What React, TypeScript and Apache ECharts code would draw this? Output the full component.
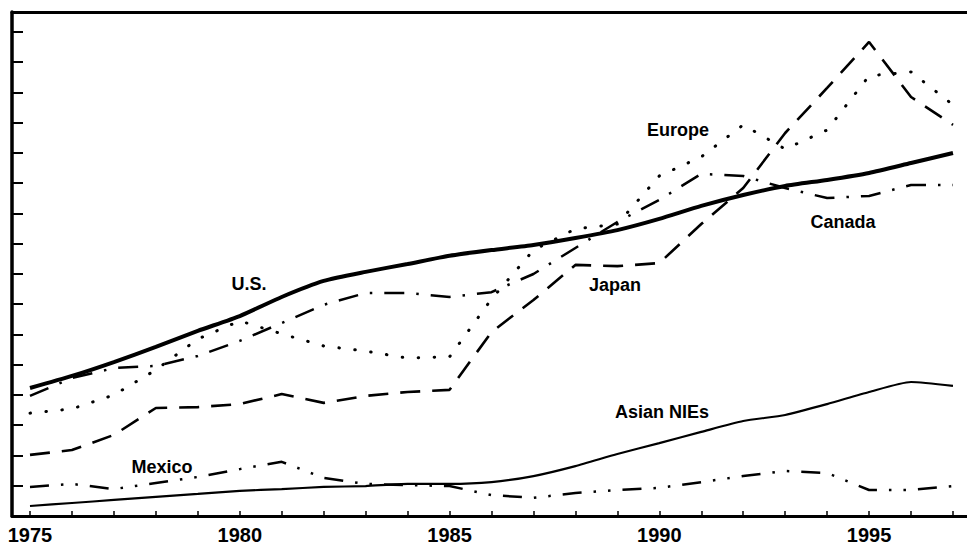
import React, { useEffect, useRef } from "react";
import * as echarts from "echarts";

const years = [1975, 1976, 1977, 1978, 1979, 1980, 1981, 1982, 1983, 1984, 1985, 1986, 1987, 1988, 1989, 1990, 1991, 1992, 1993, 1994, 1995, 1996, 1997];
const tickLabels = [1975, 1980, 1985, 1990, 1995];

const us = [4.23, 4.63, 5.09, 5.59, 6.12, 6.61, 7.24, 7.77, 8.07, 8.33, 8.6, 8.79, 8.96, 9.19, 9.45, 9.82, 10.25, 10.61, 10.91, 11.11, 11.34, 11.67, 12.0];
const canada = [3.97, 4.56, 4.89, 4.96, 5.29, 5.79, 6.38, 6.98, 7.37, 7.37, 7.24, 7.4, 8.0, 8.86, 9.72, 10.45, 11.31, 11.24, 10.84, 10.51, 10.58, 10.94, 10.94];
const europe = [3.4, 3.54, 4.0, 4.83, 5.85, 6.45, 6.02, 5.62, 5.45, 5.22, 5.26, 7.17, 8.79, 9.49, 9.65, 11.24, 11.87, 12.93, 12.13, 12.76, 14.55, 14.68, 13.59];
const japan = [2.02, 2.18, 2.68, 3.57, 3.6, 3.7, 4.03, 3.74, 3.97, 4.1, 4.17, 6.08, 7.14, 8.3, 8.26, 8.36, 9.65, 10.84, 12.66, 14.15, 15.67, 13.85, 12.93];
const mexico = [0.96, 1.06, 0.89, 1.09, 1.29, 1.55, 1.79, 1.26, 1.06, 1.02, 0.99, 0.69, 0.6, 0.76, 0.86, 0.93, 1.12, 1.32, 1.49, 1.42, 0.86, 0.86, 0.99];
const asianNIEs = [0.33, 0.43, 0.53, 0.63, 0.73, 0.83, 0.89, 0.96, 0.99, 1.06, 1.06, 1.12, 1.32, 1.65, 2.05, 2.41, 2.78, 3.14, 3.34, 3.7, 4.1, 4.43, 4.3];

const seriesNames = ["U.S.", "Canada", "Europe", "Japan", "Mexico", "Asian NIEs"];

const FONT = "'Liberation Sans', Arial, Helvetica, sans-serif";

function pairs(vals: number[]) {
  return years.map((y, i) => [y, vals[i]]);
}

export default function App() {
  const ref = useRef<HTMLDivElement>(null);
  useEffect(() => {
    if (!ref.current) return;
    const chart = echarts.init(ref.current, null, { renderer: "svg" });
    const base = { type: "line", symbol: "none", silent: true };
    const labelText = (text: string, x: number, y: number) => ({
      type: "text",
      x,
      y,
      style: {
        text,
        fill: "#000",
        font: `bold 18px ${FONT}`,
        textAlign: "center",
        textVerticalAlign: "middle",
      },
    });
    chart.setOption({
      animation: false,
      backgroundColor: "#fff",
      grid: { left: 12, right: 0, top: 12, bottom: 33 },
      xAxis: [
        {
          type: "value",
          min: 1974.571,
          max: 1997.334,
          axisLine: { show: true, lineStyle: { color: "#000", width: 3 } },
          axisTick: {
            show: true,
            inside: true,
            length: 5,
            customValues: years,
            lineStyle: { color: "#000", width: 1.5 },
          },
          axisLabel: {
            show: true,
            customValues: tickLabels,
            formatter: (v: number) => String(Math.round(v)),
            color: "#000",
            fontSize: 20,
            fontWeight: "bold",
            fontFamily: FONT,
            margin: 9,
          },
          splitLine: { show: false },
        },
        {
          type: "value",
          position: "top",
          min: 1974.571,
          max: 1997.334,
          axisLine: { show: true, lineStyle: { color: "#000", width: 3 } },
          axisTick: { show: false },
          axisLabel: { show: false },
          splitLine: { show: false },
        },
      ],
      yAxis: {
        type: "value",
        min: 0,
        max: 16.66,
        interval: 1,
        axisLine: { show: true, lineStyle: { color: "#000", width: 3.5 } },
        axisTick: { show: true, inside: true, length: 11, lineStyle: { color: "#000", width: 2 } },
        axisLabel: { show: false },
        splitLine: { show: false },
      },
      series: [
        { ...base, name: seriesNames[0], data: pairs(us), smooth: 0.2, lineStyle: { color: "#000", width: 4 } },
        { ...base, name: seriesNames[1], data: pairs(canada), lineStyle: { color: "#000", width: 2.5, type: [20, 12, 2.5, 12] } },
        { ...base, name: seriesNames[2], data: pairs(europe), lineStyle: { color: "#000", width: 3, type: [0.5, 15.5], cap: "round" } },
        { ...base, name: seriesNames[3], data: pairs(japan), lineStyle: { color: "#000", width: 2.6, type: [20, 12] } },
        { ...base, name: seriesNames[4], data: pairs(mexico), lineStyle: { color: "#000", width: 2.5, type: [19, 12, 2.5, 12, 2.5, 12] } },
        { ...base, name: seriesNames[5], data: pairs(asianNIEs), smooth: 0.2, lineStyle: { color: "#000", width: 2.2 } },
      ],
      graphic: [
        labelText("U.S.", 249, 284),
        labelText("Europe", 678, 130),
        labelText("Canada", 843, 222),
        labelText("Japan", 615, 285),
        labelText("Asian NIEs", 662, 412),
        labelText("Mexico", 162, 467),
      ],
    });
    return () => chart.dispose();
  }, []);
  return (
    <div
      ref={ref}
      style={{ position: "absolute", left: 0, top: 0, width: 967, height: 549, background: "#fff" }}
    />
  );
}
